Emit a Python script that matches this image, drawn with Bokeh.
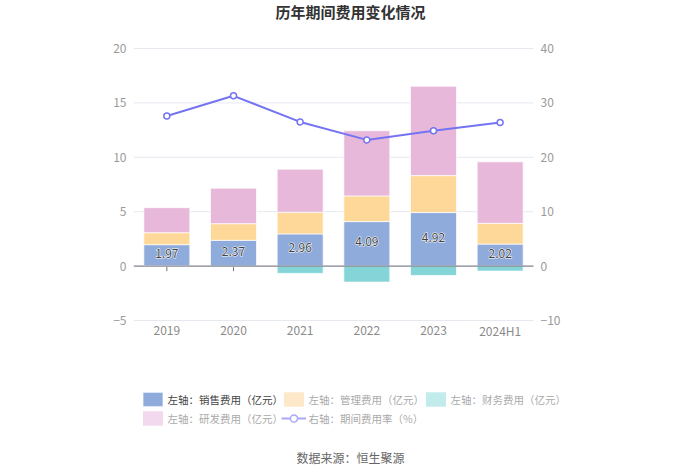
import math
from bokeh.plotting import figure
from bokeh.models import (ColumnDataSource, Range1d, LinearAxis, Legend,
                          LegendItem, Label)
from bokeh.embed import file_html
from bokeh.resources import INLINE
from bokeh.core.properties import value

# ---- data ----
years = ["2019", "2020", "2021", "2022", "2023", "2024H1"]
sales = [1.97, 2.37, 2.96, 4.09, 4.92, 2.02]          # 销售费用
admin = [1.10, 1.53, 1.99, 2.36, 3.40, 1.91]          # 管理费用
finance = [0.0, -0.06, -0.67, -1.47, -0.86, -0.46]    # 财务费用
rnd = [2.30, 3.26, 3.96, 5.99, 8.21, 5.65]            # 研发费用
rate = [27.6, 31.3, 26.5, 23.2, 24.9, 26.4]           # 期间费用率(%)
left_ticks = [-5, 0, 5, 10, 15, 20]
right_ticks = [-10, 0, 10, 20, 30, 40]
names = ["左轴：销售费用（亿元）", "左轴：管理费用（亿元）", "左轴：财务费用（亿元）",
         "左轴：研发费用（亿元）", "右轴：期间费用率（%）"]
title_text = "历年期间费用变化情况"
source_text = "数据来源：恒生聚源"

# ---- styling / layout (pixels) ----
C_BLUE, C_ORANGE, C_TEAL, C_PINK = "#8eabdb", "#fed898", "#85d5d8", "#e7b8d9"
C_LINE = "#7474f2"
AX = "#6e7079"
GRID = "#e6e9f0"
FONT = "Noto Sans CJK SC"
W, H = 700, 473
PL, PR = 133, 533            # plot area left/right
PT, PB = 48, 320             # plot area top/bottom
FR = 673                     # drawing frame right edge (room for legend text)

n = len(years)
band = (PR - PL) / n
xs = list(range(n))
x_lo = -0.5
x_hi = x_lo + (FR - PL) / band
yl0, yl1 = left_ticks[0], left_ticks[-1]
ppu_l = (PB - PT) / (yl1 - yl0)
yr0, yr1 = right_ticks[0], right_ticks[-1]
ppu_r = (PB - PT) / (yr1 - yr0)

src = ColumnDataSource(dict(
    x=xs, sales=sales, admin=admin, finance=finance, rnd=rnd, rate=rate,
    zero=[0] * n, base=[yl0] * n, years=years,
    mid=[v / 2 for v in sales], lbl=["%.2f" % v for v in sales],
))
grid_src = ColumnDataSource(dict(y=left_ticks, x0=[x_lo] * len(left_ticks),
                                 x1=[n - 0.5] * len(left_ticks)))

p = figure(x_range=Range1d(x_lo, x_hi),
           y_range=Range1d(yl0 - (H - PB) / ppu_l, yl1 + PT / ppu_l),
           width=W, height=H, output_backend="svg", toolbar_location=None,
           x_axis_location=None, min_border_left=PL, min_border_right=W - FR,
           min_border_top=0, min_border_bottom=0, outline_line_color=None)
p.extra_y_ranges = {"r": Range1d(yr0 - (H - PB) / ppu_r, yr1 + PT / ppu_r)}
p.xgrid.grid_line_color = None
p.ygrid.grid_line_color = None

# horizontal grid lines over the plot area only
p.segment(x0="x0", x1="x1", y0="y", y1="y", source=grid_src,
          line_color=GRID, line_width=1)

# x-axis tick marks on the zero line (drawn before the bars so they cover them)
p.scatter(x="x", y="zero", source=src, marker="dash", angle=math.pi / 2,
          size=10, line_color=AX, line_width=1)

# bars
stk = p.vbar_stack(["sales", "admin", "rnd"], x="x", width=0.69, source=src,
                   color=[C_BLUE, C_ORANGE, C_PINK], line_color="white",
                   line_width=1, line_alpha=0.7)
fin = p.vbar(x="x", top="finance", bottom=0, width=0.69, source=src,
             fill_color=C_TEAL, line_color="white", line_width=1, line_alpha=0.7)

# zero axis line
p.segment(x0=[x_lo], x1=[n - 0.5], y0=[0], y1=[0], line_color=AX, line_width=1)

# category labels under the plot area
p.text(x="x", y="base", text="years", source=src, text_align="center",
       text_baseline="middle", y_offset=10, text_font=value(FONT),
       text_font_size="12px", text_color="#8a8a8a")

# bar labels: white halo underneath, dark text on top
p.text(x="x", y="mid", text="lbl", source=src, text_align="center",
       text_baseline="middle", text_font=value(FONT), text_font_size="12px",
       text_color="white", text_outline_color="white", y_offset=-2)
p.text(x="x", y="mid", text="lbl", source=src, text_align="center",
       text_baseline="middle", text_font=value(FONT), text_font_size="12px",
       text_color="#444444", y_offset=-2)

# rate line
ln = p.line(x="x", y="rate", source=src, y_range_name="r",
            line_color=C_LINE, line_width=2)
sc = p.scatter(x="x", y="rate", source=src, y_range_name="r", size=6,
               fill_color="white", line_color=C_LINE, line_width=1.5)

# y axes
ly = p.yaxis[0]
ly.ticker = left_ticks
ly.axis_line_color = None
ly.major_tick_line_color = None
ly.minor_tick_line_color = None
ly.major_tick_out = 0
ly.major_tick_in = 0
ly.major_label_standoff = 7
ly.major_label_text_color = "#9a9a9a"
ly.major_label_text_font = FONT
ly.major_label_text_font_size = "12px"

ry = LinearAxis(y_range_name="r", ticker=right_ticks, fixed_location=n - 0.5,
                axis_line_color=None, major_tick_line_color=None,
                minor_tick_line_color=None, major_tick_out=0, major_tick_in=0,
                major_label_standoff=7, major_label_text_color="#9a9a9a",
                major_label_text_font=FONT, major_label_text_font_size="12px")
p.add_layout(ry, "right")

# title and source note (screen units, relative to the frame)
p.add_layout(Label(x=350 - PL, y=H - 11, x_units="screen", y_units="screen",
                   text=title_text, text_align="center", text_baseline="middle",
                   text_font=FONT, text_font_size="15px", text_font_style="bold",
                   text_color="#333333"))
p.add_layout(Label(x=350 - PL, y=H - 457, x_units="screen", y_units="screen",
                   text=source_text, text_align="center", text_baseline="middle",
                   text_font=FONT, text_font_size="12px", text_color="#666666"))

# legend (dummy renderers with NaN data carry the lighter swatch colours)
nan = float("nan")
d_admin = p.vbar(x=[nan], top=[nan], width=0.5, fill_color="#fde8c9", line_color=None)
d_fin = p.vbar(x=[nan], top=[nan], width=0.5, fill_color="#c2ebeb", line_color=None)
d_rnd = p.vbar(x=[nan], top=[nan], width=0.5, fill_color="#f2d9ee", line_color=None)
d_ln = p.line(x=[nan, nan], y=[nan, nan], line_color="#a9a9f6", line_width=2)
d_sc = p.scatter(x=[nan], y=[nan], size=9, fill_color="white",
                 line_color="#a9a9f6", line_width=1.5)

ROW = 18
specs = [
    ([stk[0]], names[0], 139.5, 390, "#444444"),
    ([d_admin], names[1], 280.5, 390, "#aaaaaa"),
    ([d_fin], names[2], 422.5, 390, "#aaaaaa"),
    ([d_rnd], names[3], 139.5, 409, "#aaaaaa"),
    ([d_ln, d_sc], names[4], 280.5, 409, "#aaaaaa"),
]
for rends, label, gx, top, tc in specs:
    lg = Legend(items=[LegendItem(label=label, renderers=rends)],
                location=(gx - PL, H - (top + ROW)), orientation="horizontal",
                padding=0, margin=0, glyph_width=25, glyph_height=ROW,
                label_standoff=3, label_height=ROW, label_text_font=FONT,
                label_text_font_size="10.5px", label_text_color=tc,
                background_fill_alpha=0, border_line_color=None)
    p.add_layout(lg, "center")

open("out.html", "w").write(file_html(p, INLINE))
